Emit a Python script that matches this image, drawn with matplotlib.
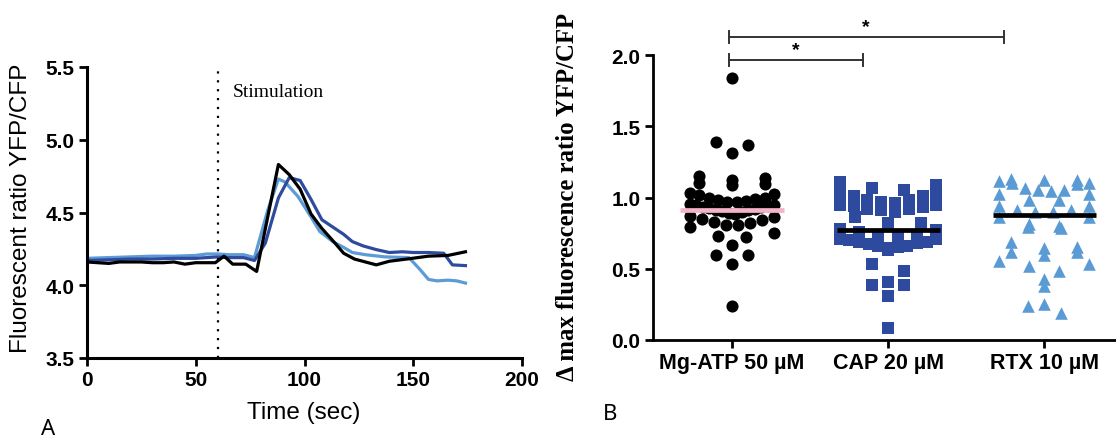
import numpy as np
import matplotlib.pyplot as plt

plt.rcParams['font.family'] = ['Liberation Sans', 'DejaVu Sans']

# ---- panel A: ratio traces (time in sec, YFP/CFP ratio) ----
t_black = [0, 5, 10, 15, 20, 25, 30, 35, 40, 45, 50, 55, 59, 63, 67, 73, 78,
           88, 93, 98, 103, 108, 114, 118, 123, 128, 133, 139, 147, 157, 166, 174]
v_black = [4.16, 4.155, 4.15, 4.16, 4.16, 4.16, 4.155, 4.155, 4.16, 4.145, 4.155,
           4.155, 4.155, 4.20, 4.145, 4.145, 4.095, 4.83, 4.76, 4.66, 4.49, 4.39,
           4.29, 4.22, 4.18, 4.16, 4.14, 4.165, 4.18, 4.20, 4.205, 4.23]

t_light = [0, 10, 20, 30, 40, 50, 55, 60, 65, 72, 77, 83, 88, 91, 97, 103, 107,
           113, 118, 122, 128, 137, 148, 153, 157, 161, 166, 170, 174]
v_light = [4.185, 4.19, 4.195, 4.20, 4.20, 4.205, 4.215, 4.215, 4.21, 4.21, 4.19,
           4.51, 4.73, 4.71, 4.61, 4.47, 4.37, 4.30, 4.26, 4.225, 4.21, 4.195,
           4.19, 4.11, 4.04, 4.03, 4.035, 4.03, 4.015]

t_dark = [0, 10, 20, 30, 40, 50, 60, 65, 72, 77, 82, 88, 93, 98, 103, 108, 113,
          118, 122, 127, 133, 139, 145, 150, 157, 164, 168, 174]
v_dark = [4.17, 4.175, 4.18, 4.18, 4.185, 4.185, 4.195, 4.19, 4.19, 4.17, 4.29,
          4.60, 4.74, 4.72, 4.59, 4.45, 4.40, 4.35, 4.30, 4.27, 4.245, 4.225,
          4.23, 4.225, 4.225, 4.22, 4.14, 4.135]

stim_time = 60

# ---- panel B: delta max ratio per condition ----
groups = ['Mg-ATP 50 µM', 'CAP 20 µM', 'RTX 10 µM']
mg_atp = [1.84, 1.39, 1.365, 1.31, 1.15, 1.135, 1.125, 1.10, 1.095, 1.09, 1.03,
          1.025, 1.02, 1.00, 1.00, 0.99, 0.985, 0.975, 0.97, 0.965, 0.955, 0.95,
          0.945, 0.94, 0.935, 0.93, 0.925, 0.92, 0.915, 0.91, 0.905, 0.90, 0.89,
          0.885, 0.87, 0.86, 0.85, 0.84, 0.83, 0.82, 0.81, 0.805, 0.79, 0.75,
          0.73, 0.725, 0.67, 0.60, 0.595, 0.535, 0.24]
cap = [1.11, 1.09, 1.065, 1.05, 1.035, 1.03, 1.01, 1.01, 0.98, 0.98, 0.97, 0.96,
       0.95, 0.95, 0.94, 0.93, 0.92, 0.92, 0.91, 0.90, 0.86, 0.82, 0.82, 0.78,
       0.77, 0.755, 0.74, 0.73, 0.725, 0.71, 0.71, 0.70, 0.69, 0.685, 0.68, 0.675,
       0.66, 0.66, 0.65, 0.645, 0.635, 0.53, 0.485, 0.41, 0.385, 0.385, 0.31, 0.085]
rtx = [1.13, 1.12, 1.12, 1.115, 1.105, 1.10, 1.095, 1.07, 1.05, 1.05, 1.045,
       1.025, 1.025, 0.98, 0.98, 0.94, 0.94, 0.91, 0.91, 0.895, 0.895, 0.86, 0.86,
       0.815, 0.80, 0.795, 0.785, 0.685, 0.65, 0.645, 0.62, 0.615, 0.60, 0.557,
       0.533, 0.52, 0.487, 0.43, 0.376, 0.25, 0.236, 0.19]
group_means = [0.915, 0.77, 0.875]
# (x start, x end, height) of the significance brackets
brackets = [(-0.02, 0.84, 1.965), (-0.02, 1.74, 2.126)]


def column_offsets(values, bin_h=0.08, step=0.21, max_half=0.28):
    """GraphPad-like column scatter: bin by value, spread each bin sideways."""
    values = np.asarray(values, dtype=float)
    offs = np.zeros(len(values))
    bins = np.floor(values / bin_h + 1e-9).astype(int)
    for b in np.unique(bins):
        idx = np.where(bins == b)[0]
        idx = idx[np.argsort(values[idx])]
        n = len(idx)
        w = step if n < 2 else min(step, 2 * max_half / (n - 1))
        slots = (np.arange(n) - (n - 1) / 2) * w
        order = np.lexsort((-slots, np.abs(slots)))
        offs[idx] = slots[order]
    return offs


fig = plt.figure(figsize=(11.16, 4.39), dpi=100)

# ---------------- panel A ----------------
axA = fig.add_axes([87 / 1116, 1 - 359 / 439, 435 / 1116, 291 / 439])
axA.plot(t_light, v_light, color='#5C9BD6', lw=2.3)
axA.plot(t_dark, v_dark, color='#2F4B9E', lw=2.3)
axA.plot(t_black, v_black, color='black', lw=2.3)
axA.axvline(stim_time, color='black', lw=1.6, linestyle=(0, (1, 3)))
axA.text(stim_time + 7, 5.335, 'Stimulation', family='Liberation Serif',
         fontsize=14, va='center')

axA.set_xlim(0, 200)
axA.set_ylim(3.5, 5.5)
axA.set_xticks([0, 50, 100, 150, 200], labels=['0', '50', '100', '150', '200'],
               fontsize=15, fontweight='bold')
yt = [3.5, 4.0, 4.5, 5.0, 5.5]
axA.set_yticks(yt, labels=[f'{v:.1f}' for v in yt], fontsize=15, fontweight='bold')
axA.tick_params(width=2, length=6, pad=3)
for s in ['top', 'right']:
    axA.spines[s].set_visible(False)
for s in ['left', 'bottom']:
    axA.spines[s].set_linewidth(2.2)

fig.text(21 / 1116, 1 - 208 / 439, 'Fluorescent ratio YFP/CFP', rotation=90,
         ha='center', va='center', fontsize=17.5)
fig.text(304 / 1116, 1 - 413 / 439, 'Time (sec)', ha='center', va='center',
         fontsize=17.5)
fig.text(48 / 1116, 1 - 430 / 439, 'A', family='Noto Sans', fontsize=16,
         ha='center', va='center')

# ---------------- panel B ----------------
axB = fig.add_axes([653 / 1116, 1 - 341 / 439, (1116 - 653) / 1116, 285 / 439])
axB.set_xlim(-0.506, 2.46)
axB.set_ylim(0, 2.0)

styles = [dict(marker='o', color='black', s=76),
          dict(marker='s', color='#2D4A9F', s=68),
          dict(marker='^', color='#5B9BD5', s=82)]
halves = [0.27, 0.31, 0.29]
for i, vals in enumerate([mg_atp, cap, rtx]):
    x = i + column_offsets(vals, max_half=halves[i])
    axB.scatter(x, vals, linewidths=0, zorder=3, clip_on=False, **styles[i])

line_cols = ['#F4B3C9', 'black', 'black']
for i, m in enumerate(group_means):
    axB.hlines(m, i - 0.33, i + 0.33, color=line_cols[i], lw=3.4, zorder=4)

for x0, x1, h in brackets:
    axB.plot([x0, x1], [h, h], color='#333333', lw=1.4, clip_on=False)
    for xe in (x0, x1):
        axB.plot([xe, xe], [h - 0.042, h + 0.042], color='#333333', lw=1.4,
                 clip_on=False)
    axB.text((x0 + x1) / 2, h + 0.075, '*', ha='center', va='center',
             fontsize=14, fontweight='bold', clip_on=False)

axB.set_xticks(range(len(groups)), labels=groups, fontsize=15.5, fontweight='bold')
ybt = [0.0, 0.5, 1.0, 1.5, 2.0]
axB.set_yticks(ybt, labels=[f'{v:.1f}' for v in ybt], fontsize=15, fontweight='bold')
axB.tick_params(width=2, length=6, pad=3)
for s in ['top', 'right']:
    axB.spines[s].set_visible(False)
for s in ['left', 'bottom']:
    axB.spines[s].set_linewidth(2.0)

fig.text(568 / 1116, 1 - 197 / 439, 'Δ max fluorescence ratio YFP/CFP',
         family='Liberation Serif', fontweight='bold', fontsize=17.8,
         rotation=90, ha='center', va='center')
fig.text(610 / 1116, 1 - 415 / 439, 'B', family='Noto Sans', fontsize=16,
         ha='center', va='center')

fig.savefig('out.png', dpi=100)
